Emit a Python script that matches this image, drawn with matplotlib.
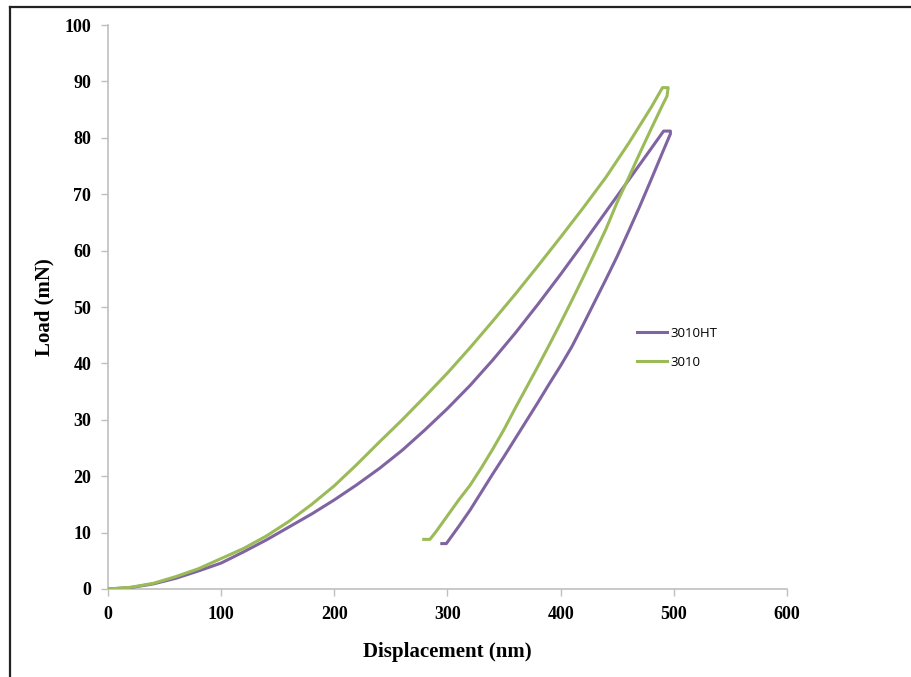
import matplotlib
matplotlib.use('Agg')
import matplotlib.pyplot as plt
from matplotlib.lines import Line2D

# ---- data (displacement nm, load mN) ----
HT_LOAD_X = [0, 20, 40, 60, 80, 100, 120, 140, 160, 180, 200, 220, 240, 260, 280, 300,
             320, 340, 360, 380, 400, 420, 440, 460, 480, 491, 497]
HT_LOAD_Y = [0, 0.25, 0.9, 1.9, 3.2, 4.6, 6.6, 8.7, 11.0, 13.3, 15.8, 18.5, 21.4, 24.6, 28.2, 32.0,
             36.1, 40.6, 45.4, 50.5, 55.8, 61.3, 66.9, 72.5, 78.1, 81.2, 81.2]
HT_UNLOAD_X = [497, 490, 480, 470, 460, 450, 440, 430, 420, 410, 400, 390, 380, 370, 360,
               350, 340, 330, 320, 310, 299, 295]
HT_UNLOAD_Y = [80.7, 77.4, 72.6, 67.9, 63.4, 59.0, 54.9, 50.9, 46.9, 43.0, 39.6, 36.4, 33.1, 29.9, 26.7,
               23.5, 20.4, 17.2, 14.0, 11.1, 8.05, 8.05]

STD_LOAD_X = [0, 20, 40, 60, 80, 100, 120, 140, 160, 180, 200, 220, 240, 260, 280, 300,
              320, 340, 360, 380, 400, 420, 440, 460, 480, 490, 495]
STD_LOAD_Y = [0, 0.3, 1.0, 2.2, 3.6, 5.4, 7.2, 9.4, 12.0, 15.0, 18.3, 22.1, 26.1, 30.0, 34.1, 38.3,
              42.8, 47.5, 52.3, 57.3, 62.4, 67.6, 73.0, 79.0, 85.4, 88.9, 88.9]
STD_UNLOAD_X = [494, 490, 480, 470, 460, 450, 440, 430, 420, 410, 400, 390, 380, 370, 360,
                350, 340, 330, 320, 310, 300, 290, 284.5, 279]
STD_UNLOAD_Y = [87.4, 85.8, 81.6, 77.3, 72.9, 68.6, 63.8, 59.5, 55.3, 51.2, 47.2, 43.3, 39.5, 35.8, 32.1,
                28.3, 24.8, 21.5, 18.4, 15.8, 13.0, 10.2, 8.8, 8.8]

SERIES = ['3010HT', '3010']
COLORS = ['#8064A2', '#9BBB59']

X_TICKS = [0, 100, 200, 300, 400, 500, 600]
Y_TICKS = [0, 10, 20, 30, 40, 50, 60, 70, 80, 90, 100]

AXIS_GRAY = '#BFBFBF'
SERIF = ['Liberation Serif', 'DejaVu Serif']

fig = plt.figure(figsize=(9.12, 6.77), dpi=100)
ax = fig.add_axes([0.1184, 0.130, 0.7445, 0.833])

ht_x = HT_LOAD_X + HT_UNLOAD_X
ht_y = HT_LOAD_Y + HT_UNLOAD_Y
std_x = STD_LOAD_X + STD_UNLOAD_X
std_y = STD_LOAD_Y + STD_UNLOAD_Y

ax.plot(ht_x, ht_y, color=COLORS[0], lw=2.2, solid_joinstyle='round', zorder=3)
ax.plot(std_x, std_y, color=COLORS[1], lw=2.2, solid_joinstyle='round', zorder=3)

ax.set_xlim(0, 600)
ax.set_ylim(0, 100)
ax.set_xticks(X_TICKS)
ax.set_yticks(Y_TICKS)

for s in ['top', 'right']:
    ax.spines[s].set_visible(False)
for s in ['left', 'bottom']:
    ax.spines[s].set_color(AXIS_GRAY)
    ax.spines[s].set_linewidth(1.2)
ax.tick_params(axis='both', direction='out', length=5, width=1.0, color=AXIS_GRAY, pad=7)

for lab in ax.get_xticklabels() + ax.get_yticklabels():
    lab.set_family(SERIF)
    lab.set_fontweight('bold')
    lab.set_fontsize(13)
    lab.set_color('black')

ax.set_xlabel('Displacement (nm)', family=SERIF, fontweight='bold', fontsize=15, labelpad=14)
ax.set_ylabel('Load (mN)', family=SERIF, fontweight='bold', fontsize=15, labelpad=7.5)

handles = [Line2D([0], [0], color=c, lw=2.2) for c in COLORS]
leg = ax.legend(handles, SERIES, loc='upper left', bbox_to_anchor=(0.761, 0.486),
                frameon=False, handlelength=2.3, handletextpad=0.25, labelspacing=1.2,
                prop={'family': ['Open Sans', 'DejaVu Sans'], 'size': 9.5})

# outer chart frame (top and left edges visible in the reference)
fig.add_artist(Line2D([0.0105, 1.0], [0.9895, 0.9895], transform=fig.transFigure,
                      color='#222222', lw=1.6))
fig.add_artist(Line2D([0.0105, 0.0105], [0.0, 0.9895], transform=fig.transFigure,
                      color='#222222', lw=1.6))

fig.savefig('out.png', dpi=100)
